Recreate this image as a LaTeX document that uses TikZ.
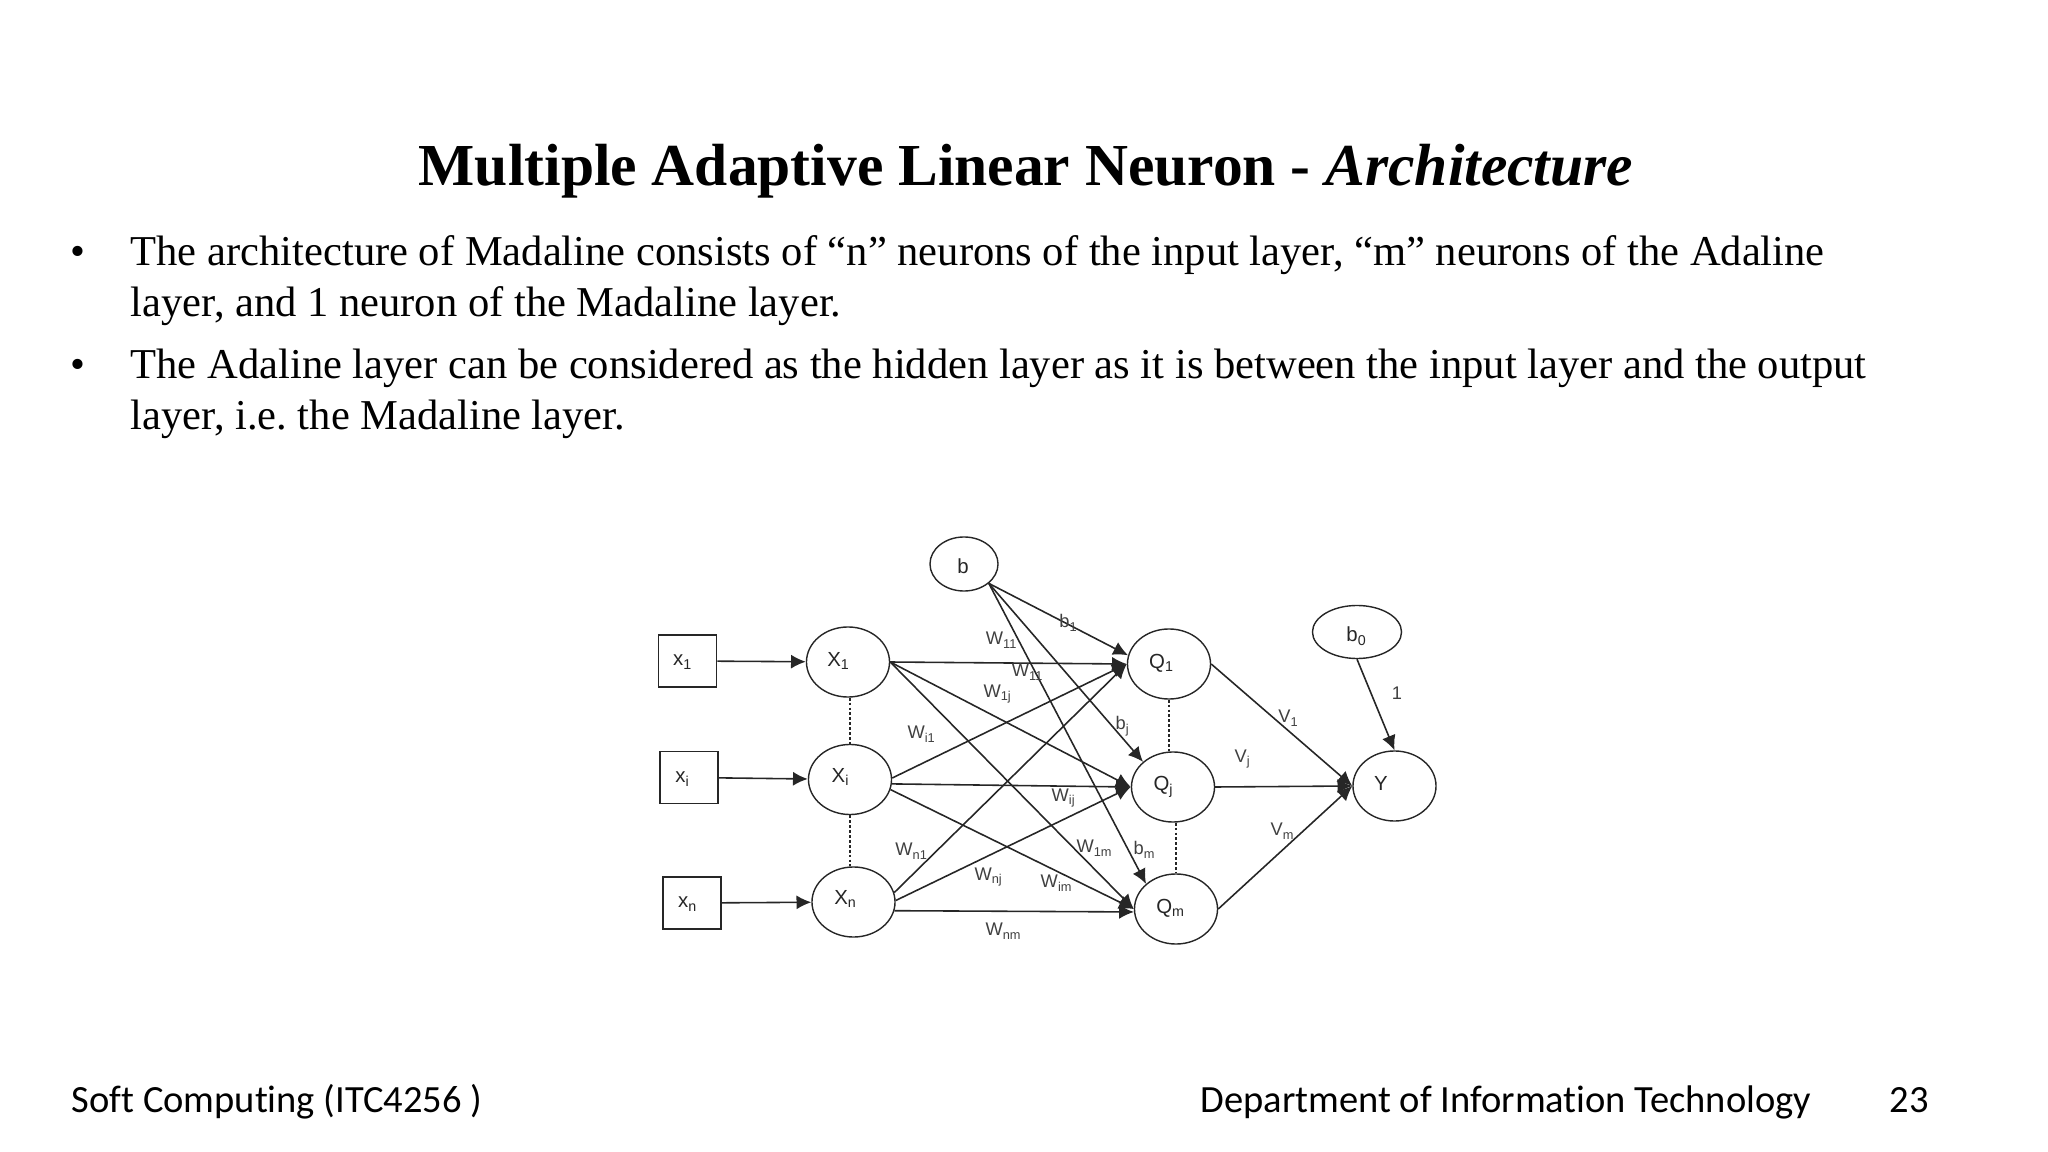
\documentclass[tikz,border=0pt]{standalone}
\usepackage{fontspec}
\setmainfont{Liberation Serif}
\newfontfamily\footfont[Ligatures=NoCommon]{Carlito}
\newfontfamily\netfont{Liberation Sans}
\usetikzlibrary{arrows.meta,shapes.geometric}
\tikzset{
	slideline/.style={anchor=base west,inner sep=0pt,font=\fontsize{12.1}{15}\selectfont},
	footline/.style={anchor=base west,inner sep=0pt,font=\footfont\fontsize{10.95}{13}\selectfont},
	inputbox/.style={draw=black!85,line width=0.5pt,minimum width=0.58cm,minimum height=0.52cm,inner sep=0pt},
	neuron/.style={draw=black!85,ellipse,line width=0.4pt,minimum width=0.83cm,minimum height=0.70cm,inner sep=0pt},
	netlabel/.style={inner sep=0pt,text=black!75,font=\netfont\fontsize{5.2}{6}\selectfont},
	nodelabel/.style={inner sep=0pt,text=black!85,font=\netfont\fontsize{5.8}{7}\selectfont},
	wire/.style={line width=0.45pt,draw=black!85,-{Latex[length=4.2pt,width=4pt]}},
	dotwire/.style={line width=0.7pt,draw=black!85,dash pattern=on 0.8pt off 0.6pt}
}
\begin{document}
\begin{tikzpicture}[x=0.01cm,y=-0.01cm]
	\useasboundingbox (0,0) rectangle (2048,1152);
	%%%%% TEXT %%%%%
	\node[inner sep=0pt,font=\bfseries\fontsize{16.93}{20}\selectfont] (title) at (1026,171) {Multiple Adaptive Linear Neuron - \textit{Architecture}};
	\node[slideline] (bull1) at (70,266) {•};
	\node[slideline] (line1) at (130,266) {The architecture of Madaline consists of “n” neurons of the input layer, “m” neurons of the Adaline};
	\node[slideline] (line2) at (130,317) {layer, and 1 neuron of the Madaline layer.};
	\node[slideline] (bull2) at (70,379) {•};
	\node[slideline] (line3) at (130,379) {The Adaline layer can be considered as the hidden layer as it is between the input layer and the output};
	\node[slideline] (line4) at (130,430) {layer, i.e.\ the Madaline layer.};
	\node[footline] (footl) at (71,1112) {Soft Computing (ITC4256 )};
	\node[footline] (footm) at (1200,1112) {Department of Information Technology};
	\node[footline] (footr) at (1889,1112) {23};
	%%%%% NODES %%%%%
	\node[inputbox] (x1) at (687.5,661) {};
	\node[inputbox] (xi) at (689,777.5) {};
	\node[inputbox] (xn) at (692,903) {};
	\node[neuron] (X1) at (848,662) {};
	\node[neuron] (Xi) at (850,779.5) {};
	\node[neuron] (Xn) at (853.5,902) {};
	\node[neuron,minimum width=0.68cm,minimum height=0.54cm] (b) at (964,564) {};
	\node[neuron] (Q1) at (1169,664) {};
	\node[neuron] (Qj) at (1173,787) {};
	\node[neuron] (Qm) at (1176,909) {};
	\node[neuron] (Y) at (1394.5,786) {};
	\node[neuron,minimum width=0.89cm,minimum height=0.53cm] (b0) at (1357,632) {};
	%%%%% NODE TEXT %%%%%
	\node[nodelabel] (tx1) at (683,662) {x\textsubscript{1}};
	\node[nodelabel] (txi) at (683,779) {x\textsubscript{i}};
	\node[nodelabel] (txn) at (688,904) {x\textsubscript{n}};
	\node[nodelabel] (tX1) at (839,661) {X\textsubscript{1}};
	\node[nodelabel] (tXi) at (841,777) {X\textsubscript{i}};
	\node[nodelabel] (tXn) at (846,899) {X\textsubscript{n}};
	\node[nodelabel] (tb) at (963,566) {b};
	\node[nodelabel] (tQ1) at (1162,663) {Q\textsubscript{1}};
	\node[nodelabel] (tQj) at (1164,787) {Q\textsubscript{j}};
	\node[nodelabel] (tQm) at (1171,908) {Q\textsubscript{m}};
	\node[nodelabel] (tY) at (1381,783) {Y};
	\node[nodelabel] (tb0) at (1357,636) {b\textsubscript{0}};
	%%%%% WIRES %%%%%
	\draw[wire] (x1) -- (X1);
	\draw[wire] (xi) -- (Xi);
	\draw[wire] (xn) -- (Xn);
	\draw[dotwire] (Xi.north |- X1.south) -- (Xi.north);
	\draw[dotwire] (Xi.south) -- (Xi.south |- Xn.north);
	\draw[dotwire] (Q1.south) -- (Q1.south |- Qj.north);
	\draw[dotwire] (Qm.north |- Qj.south) -- (Qm.north);
	\draw[wire] (X1.east) -- (Q1.west);
	\draw[wire] (X1.east) -- (Qj.west);
	\draw[wire] (X1.east) -- (Qm.west);
	\draw[wire] (Xi.2) -- (Q1.west);
	\draw[wire] (Xi.-6) -- (Qj.west);
	\draw[wire] (Xi.-14) -- (Qm.west);
	\draw[wire] (Xn.13) -- (Q1.west);
	\draw[wire] (Xn.2) -- (Qj.west);
	\draw[wire] (Xn.-12) -- (Qm.-176);
	\draw[wire] (b.-38) -- (Q1.168);
	\draw[wire] (b.-38) -- (Qj.140);
	\draw[wire] (b.-38) -- (Qm.140);
	\draw[wire] (Q1.east) -- (Y.west);
	\draw[wire] (Qj.east) -- (Y.west);
	\draw[wire] (Qm.east) -- (Y.west);
	\draw[wire] (b0.south) -- (Y.north);
	%%%%% WEIGHTS %%%%%
	\node[netlabel] (w11) at (1002,640) {W\textsubscript{11}};
	\node[netlabel] (w12) at (1028,672) {W\textsubscript{11}};
	\node[netlabel] (w1j) at (998,694) {W\textsubscript{1j}};
	\node[netlabel] (wi1) at (922,734) {W\textsubscript{i1}};
	\node[netlabel] (wn1) at (912,851) {W\textsubscript{n1}};
	\node[netlabel] (wnj) at (989,877) {W\textsubscript{nj}};
	\node[netlabel] (wnm) at (1004,931) {W\textsubscript{nm}};
	\node[netlabel] (wij) at (1064,798) {W\textsubscript{ij}};
	\node[netlabel] (w1m) at (1095,848) {W\textsubscript{1m}};
	\node[netlabel] (wim) at (1057,883) {W\textsubscript{im}};
	\node[netlabel] (b1) at (1069,623) {b\textsubscript{1}};
	\node[netlabel] (bj) at (1123,726) {b\textsubscript{j}};
	\node[netlabel] (bm) at (1145,850) {b\textsubscript{m}};
	\node[netlabel] (v1) at (1289,718) {V\textsubscript{1}};
	\node[netlabel] (vj) at (1243,759) {V\textsubscript{j}};
	\node[netlabel] (vm) at (1283,831) {V\textsubscript{m}};
	\node[netlabel] (one) at (1397,693) {1};
\end{tikzpicture}
\end{document}
